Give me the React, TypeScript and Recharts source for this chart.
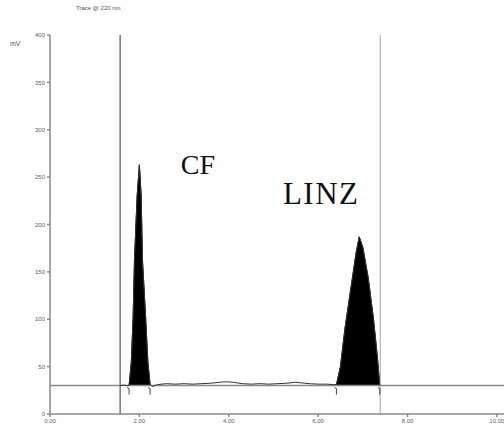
import {
  Area,
  ComposedChart,
  Line,
  ReferenceDot,
  ReferenceLine,
  Scatter,
  XAxis,
  YAxis,
} from "recharts";

const AXIS_GRAY = "#8a8a8a";
const TICK_TEXT = "#5e5e5e";

// retention time (min) and detector signal (mV)
const times = [
  1.57, 1.65, 1.72, 1.77, 1.82, 1.86, 1.89, 1.95, 2.0, 2.04, 2.07, 2.14, 2.19, 2.24,
  2.3, 2.4, 2.6, 2.8, 3.0, 3.2, 3.4, 3.6, 3.8, 3.95, 4.1, 4.3, 4.5, 4.7, 4.9, 5.1,
  5.3, 5.5, 5.6, 5.8, 6.0, 6.2, 6.35, 6.41, 6.5, 6.6, 6.75, 6.85, 6.92, 7.0, 7.12,
  7.24, 7.33, 7.38,
];
const signal = [
  30, 30.5, 30, 30, 55, 102, 162, 230, 263, 230, 162, 102, 55, 31,
  29, 31, 32, 31.5, 32, 31.5, 32, 32.5, 33.5, 34, 33.5, 32, 31.5, 32, 31.5, 32,
  32.5, 33.5, 33, 32, 31.5, 31.5, 31, 31, 50, 90, 138, 170, 187, 176, 144,
  100, 58, 30,
];

const peakWindows = [
  [1.77, 2.24],
  [6.41, 7.38],
];
const integrationMarks = [1.77, 2.24, 6.41, 7.38];
const cutLines = [1.57, 7.39];
const baselineLevel = 30;

const yTicks = [0, 50, 100, 150, 200, 250, 300, 350, 400];
const xTicks = [0, 2, 4, 6, 8, 10];
const xTickLabels = ["0.00", "2.00", "4.00", "6.00", "8.00", "10.00"];

const peakLabels = [
  { name: "CF", t: 3.31, v: 264, size: 28, spacing: 0 },
  { name: "LINZ", t: 6.07, v: 233, size: 31, spacing: 1.5 },
];

const data = times.map((t, i) => {
  const inPeak = peakWindows.some(([a, b]) => t >= a && t <= b);
  return { t, signal: signal[i], peak: inPeak ? signal[i] : null };
});

const markData = integrationMarks.map((t) => ({ t, v: baselineLevel }));

const MarkShape = (props: any) => {
  const { cx, cy } = props;
  return (
    <path
      d={`M${cx - 2},${cy + 2} L${cx},${cy + 3} L${cx},${cy + 9}`}
      stroke="#444"
      strokeWidth={1}
      fill="none"
    />
  );
};

export default function App() {
  return (
    <div style={{ position: "absolute", left: 0, top: 0, width: 504, height: 434, background: "#fff" }}>
      <div
        style={{
          position: "absolute",
          left: 76,
          top: 5,
          fontFamily: "Liberation Sans, Arial, sans-serif",
          fontSize: 6,
          color: "#555",
        }}
      >
        Trace @ 220 nm
      </div>
      <div
        style={{
          position: "absolute",
          left: 10,
          top: 40,
          fontFamily: "Liberation Sans, Arial, sans-serif",
          fontSize: 7,
          color: "#555",
        }}
      >
        mV
      </div>
      <ComposedChart
        width={504}
        height={434}
        data={data}
        margin={{ top: 35, right: 0, bottom: 6, left: 10 }}
      >
        <XAxis
          dataKey="t"
          type="number"
          domain={[0, 10.16]}
          ticks={xTicks}
          allowDataOverflow
          tickFormatter={(v: number) => xTickLabels[xTicks.indexOf(v)] ?? ""}
          tick={{ fill: TICK_TEXT, fontSize: 6, fontFamily: "Liberation Sans, Arial" }}
          tickSize={3}
          height={14}
          stroke={AXIS_GRAY}
          strokeWidth={1.5}
        />
        <YAxis
          type="number"
          domain={[0, 400]}
          ticks={yTicks}
          width={40}
          tick={{ fill: TICK_TEXT, fontSize: 6, fontFamily: "Liberation Sans, Arial" }}
          tickSize={3}
          stroke={AXIS_GRAY}
          strokeWidth={1.5}
        />

        <ReferenceLine y={baselineLevel} stroke={AXIS_GRAY} strokeWidth={1.5} />
        <ReferenceLine x={cutLines[0]} stroke="#777" strokeWidth={1.5} />
        <ReferenceLine x={cutLines[1]} stroke="#a0a0a0" strokeWidth={1} />

        <Area
          dataKey="peak"
          type="linear"
          baseValue={baselineLevel}
          fill="#000"
          fillOpacity={1}
          stroke="#000"
          strokeWidth={1}
          connectNulls={false}
          isAnimationActive={false}
          dot={false}
          activeDot={false}
        />
        <Line
          dataKey="signal"
          type="linear"
          stroke="#333"
          strokeWidth={1}
          dot={false}
          activeDot={false}
          isAnimationActive={false}
        />
        <Scatter
          data={markData}
          dataKey="v"
          shape={MarkShape}
          isAnimationActive={false}
        />

        {peakLabels.map((p) => (
          <ReferenceDot
            key={p.name}
            x={p.t}
            y={p.v}
            r={0}
            stroke="none"
            label={{
              value: p.name,
              position: "center",
              fill: "#111",
              fontSize: p.size,
              letterSpacing: p.spacing,
              fontFamily: "Liberation Serif, Times New Roman, serif",
            }}
          />
        ))}
      </ComposedChart>
    </div>
  );
}
